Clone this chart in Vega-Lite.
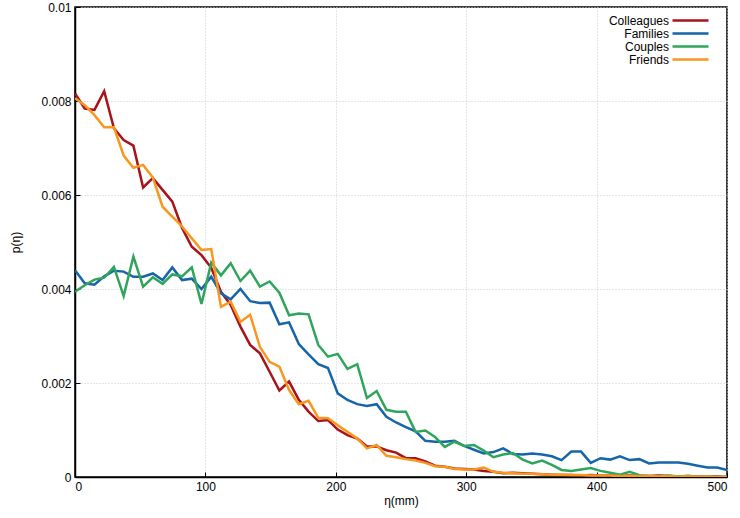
{
  "$schema": "https://vega.github.io/schema/vega-lite/v6.json",
  "width": 652,
  "height": 470,
  "autosize": "none",
  "padding": {"left": 75, "top": 7, "right": 13, "bottom": 41},
  "background": "white",
  "config": {
    "font": "Liberation Sans",
    "view": {"stroke": "black", "strokeWidth": 1.5},
    "axis": {
      "labelFont": "Liberation Sans",
      "labelFontSize": 12,
      "labelColor": "black",
      "titleFont": "Liberation Sans",
      "titleFontSize": 12,
      "titleFontWeight": "normal",
      "titleColor": "black",
      "domainColor": "black",
      "domainWidth": 1.5,
      "tickColor": "black",
      "tickSize": -5,
      "labelPadding": 9,
      "gridColor": "#cccccc",
      "gridDash": [1, 2],
      "gridWidth": 1
    },
    "legend": {
      "labelFont": "Liberation Sans",
      "labelFontSize": 12,
      "labelColor": "black"
    }
  },
  "data": {
    "values": [
      {"x": 0, "Colleagues": 0.00816, "Families": 0.0044, "Couples": 0.00394, "Friends": 0.00806},
      {"x": 7.46, "Colleagues": 0.00784, "Families": 0.00412, "Couples": 0.00408, "Friends": 0.00791},
      {"x": 14.93, "Colleagues": 0.00781, "Families": 0.00409, "Couples": 0.0042, "Friends": 0.0077},
      {"x": 22.39, "Colleagues": 0.00821, "Families": 0.00427, "Couples": 0.00424, "Friends": 0.00744},
      {"x": 29.85, "Colleagues": 0.00742, "Families": 0.00439, "Couples": 0.00447, "Friends": 0.00744},
      {"x": 37.31, "Colleagues": 0.00717, "Families": 0.00437, "Couples": 0.00385, "Friends": 0.00684},
      {"x": 44.78, "Colleagues": 0.00705, "Families": 0.00426, "Couples": 0.00469, "Friends": 0.00658},
      {"x": 52.24, "Colleagues": 0.00616, "Families": 0.00426, "Couples": 0.00405, "Friends": 0.00664},
      {"x": 59.7, "Colleagues": 0.00636, "Families": 0.00433, "Couples": 0.00425, "Friends": 0.00637},
      {"x": 67.16, "Colleagues": 0.00611, "Families": 0.00419, "Couples": 0.00411, "Friends": 0.00575},
      {"x": 74.63, "Colleagues": 0.00586, "Families": 0.00446, "Couples": 0.00431, "Friends": 0.00554},
      {"x": 82.09, "Colleagues": 0.0053, "Families": 0.00419, "Couples": 0.00427, "Friends": 0.00533},
      {"x": 89.55, "Colleagues": 0.0049, "Families": 0.00422, "Couples": 0.00446, "Friends": 0.00508},
      {"x": 97.01, "Colleagues": 0.00472, "Families": 0.004, "Couples": 0.00368, "Friends": 0.00483},
      {"x": 104.48, "Colleagues": 0.00445, "Families": 0.00426, "Couples": 0.00456, "Friends": 0.00485},
      {"x": 111.94, "Colleagues": 0.00394, "Families": 0.00391, "Couples": 0.00429, "Friends": 0.00362},
      {"x": 119.4, "Colleagues": 0.00366, "Families": 0.00378, "Couples": 0.00455, "Friends": 0.00373},
      {"x": 126.87, "Colleagues": 0.0032, "Families": 0.004, "Couples": 0.00417, "Friends": 0.0033},
      {"x": 134.33, "Colleagues": 0.00281, "Families": 0.00374, "Couples": 0.00439, "Friends": 0.00345},
      {"x": 141.79, "Colleagues": 0.00263, "Families": 0.0037, "Couples": 0.00405, "Friends": 0.00277},
      {"x": 149.25, "Colleagues": 0.00224, "Families": 0.00371, "Couples": 0.00416, "Friends": 0.00245},
      {"x": 156.72, "Colleagues": 0.00184, "Families": 0.00325, "Couples": 0.00392, "Friends": 0.00235},
      {"x": 164.18, "Colleagues": 0.00203, "Families": 0.00329, "Couples": 0.00344, "Friends": 0.00185},
      {"x": 171.64, "Colleagues": 0.00164, "Families": 0.00283, "Couples": 0.00348, "Friends": 0.00155},
      {"x": 179.1, "Colleagues": 0.00139, "Families": 0.00261, "Couples": 0.00346, "Friends": 0.00162},
      {"x": 186.57, "Colleagues": 0.00119, "Families": 0.0024, "Couples": 0.00281, "Friends": 0.00126},
      {"x": 194.03, "Colleagues": 0.00121, "Families": 0.00232, "Couples": 0.00256, "Friends": 0.00125},
      {"x": 201.49, "Colleagues": 0.00101, "Families": 0.00178, "Couples": 0.00262, "Friends": 0.0011},
      {"x": 208.96, "Colleagues": 0.00089, "Families": 0.00164, "Couples": 0.0023, "Friends": 0.00096},
      {"x": 216.42, "Colleagues": 0.00082, "Families": 0.00155, "Couples": 0.0024, "Friends": 0.00082},
      {"x": 223.88, "Colleagues": 0.00065, "Families": 0.00151, "Couples": 0.00168, "Friends": 0.00061},
      {"x": 231.34, "Colleagues": 0.00065, "Families": 0.00155, "Couples": 0.00183, "Friends": 0.00068},
      {"x": 238.81, "Colleagues": 0.00057, "Families": 0.00128, "Couples": 0.00143, "Friends": 0.00045},
      {"x": 246.27, "Colleagues": 0.00052, "Families": 0.00116, "Couples": 0.00139, "Friends": 0.00042},
      {"x": 253.73, "Colleagues": 0.0004, "Families": 0.00106, "Couples": 0.00139, "Friends": 0.00038},
      {"x": 261.19, "Colleagues": 0.0004, "Families": 0.00097, "Couples": 0.00096, "Friends": 0.00035},
      {"x": 268.66, "Colleagues": 0.00033, "Families": 0.00077, "Couples": 0.00099, "Friends": 0.0003},
      {"x": 276.12, "Colleagues": 0.00024, "Families": 0.00075, "Couples": 0.00085, "Friends": 0.00023},
      {"x": 283.58, "Colleagues": 0.00022, "Families": 0.00075, "Couples": 0.00064, "Friends": 0.00022},
      {"x": 291.04, "Colleagues": 0.00018, "Families": 0.00077, "Couples": 0.00075, "Friends": 0.00017},
      {"x": 298.51, "Colleagues": 0.00017, "Families": 0.00066, "Couples": 0.00066, "Friends": 0.00016},
      {"x": 305.97, "Colleagues": 0.00016, "Families": 0.00058, "Couples": 0.00068, "Friends": 0.00016},
      {"x": 313.43, "Colleagues": 0.00013, "Families": 0.0005, "Couples": 0.00056, "Friends": 0.0002},
      {"x": 320.9, "Colleagues": 0.00011, "Families": 0.00053, "Couples": 0.00042, "Friends": 0.00011},
      {"x": 328.36, "Colleagues": 0.00008, "Families": 0.00061, "Couples": 0.00048, "Friends": 0.00009},
      {"x": 335.82, "Colleagues": 0.00009, "Families": 0.00049, "Couples": 0.00051, "Friends": 0.00008},
      {"x": 343.28, "Colleagues": 0.00008, "Families": 0.00048, "Couples": 0.00037, "Friends": 0.00007},
      {"x": 350.75, "Colleagues": 0.00007, "Families": 0.0005, "Couples": 0.00029, "Friends": 0.00007},
      {"x": 358.21, "Colleagues": 0.00006, "Families": 0.00048, "Couples": 0.00035, "Friends": 0.00006},
      {"x": 365.67, "Colleagues": 0.00005, "Families": 0.00044, "Couples": 0.00026, "Friends": 0.00005},
      {"x": 373.13, "Colleagues": 0.00004, "Families": 0.00036, "Couples": 0.00015, "Friends": 0.00005},
      {"x": 380.6, "Colleagues": 0.00004, "Families": 0.00054, "Couples": 0.00013, "Friends": 0.00004},
      {"x": 388.06, "Colleagues": 0.00003, "Families": 0.00054, "Couples": 0.00016, "Friends": 0.00004},
      {"x": 395.52, "Colleagues": 0.00004, "Families": 0.0003, "Couples": 0.00019, "Friends": 0.00003},
      {"x": 402.99, "Colleagues": 0.00003, "Families": 0.0004, "Couples": 0.00013, "Friends": 0.00003},
      {"x": 410.45, "Colleagues": 0.00003, "Families": 0.00037, "Couples": 0.00009, "Friends": 0.00003},
      {"x": 417.91, "Colleagues": 0.00002, "Families": 0.00044, "Couples": 0.00005, "Friends": 0.00002},
      {"x": 425.37, "Colleagues": 0.00003, "Families": 0.00036, "Couples": 0.00011, "Friends": 0.00002},
      {"x": 432.84, "Colleagues": 0.00002, "Families": 0.00038, "Couples": 0.00004, "Friends": 0.00002},
      {"x": 440.3, "Colleagues": 0.00002, "Families": 0.00029, "Couples": 0.00002, "Friends": 0.00002},
      {"x": 447.76, "Colleagues": 0.00003, "Families": 0.00031, "Couples": 0.00001, "Friends": 0.00001},
      {"x": 455.22, "Colleagues": 0.00002, "Families": 0.00031, "Couples": 0.00003, "Friends": 0.00002},
      {"x": 462.69, "Colleagues": 0.00001, "Families": 0.00031, "Couples": 0.00001, "Friends": 0.00001},
      {"x": 470.15, "Colleagues": 0.00002, "Families": 0.00028, "Couples": 0.00002, "Friends": 0.00001},
      {"x": 477.61, "Colleagues": 0.00001, "Families": 0.00024, "Couples": 0, "Friends": 0.00001},
      {"x": 485.07, "Colleagues": 0.00001, "Families": 0.0002, "Couples": 0.00001, "Friends": 0.00001},
      {"x": 492.54, "Colleagues": 0.00001, "Families": 0.0002, "Couples": 0, "Friends": 0},
      {"x": 500, "Colleagues": 0, "Families": 0.00015, "Couples": 0, "Friends": 0}
    ]
  },
  "transform": [
    {"fold": ["Colleagues", "Families", "Couples", "Friends"], "as": ["group", "p"]}
  ],
  "mark": {"type": "line", "strokeWidth": 2.5, "clip": true},
  "encoding": {
    "x": {
      "field": "x",
      "type": "quantitative",
      "scale": {"domain": [0, 500], "nice": false, "zero": false},
      "axis": {"values": [0, 100, 200, 300, 400, 500], "title": "η(mm)", "titlePadding": 3}
    },
    "y": {
      "field": "p",
      "type": "quantitative",
      "scale": {"domain": [0, 0.01], "nice": false},
      "axis": {"values": [0, 0.002, 0.004, 0.006, 0.008, 0.01], "format": "~g", "title": "p(η)", "titlePadding": 18}
    },
    "color": {
      "field": "group",
      "type": "nominal",
      "scale": {
        "domain": ["Colleagues", "Families", "Couples", "Friends"],
        "range": ["#a8121b", "#1665aa", "#2ea55b", "#f9961e"]
      },
      "legend": {
        "title": null,
        "orient": "none",
        "legendX": 609,
        "legendY": 7,
        "symbolType": "M-3.6,0H3.6",
        "symbolSize": 100,
        "symbolStrokeWidth": 2.5,
        "labelAlign": "right",
        "labelOffset": -28,
        "rowPadding": 0
      }
    }
  }
}
